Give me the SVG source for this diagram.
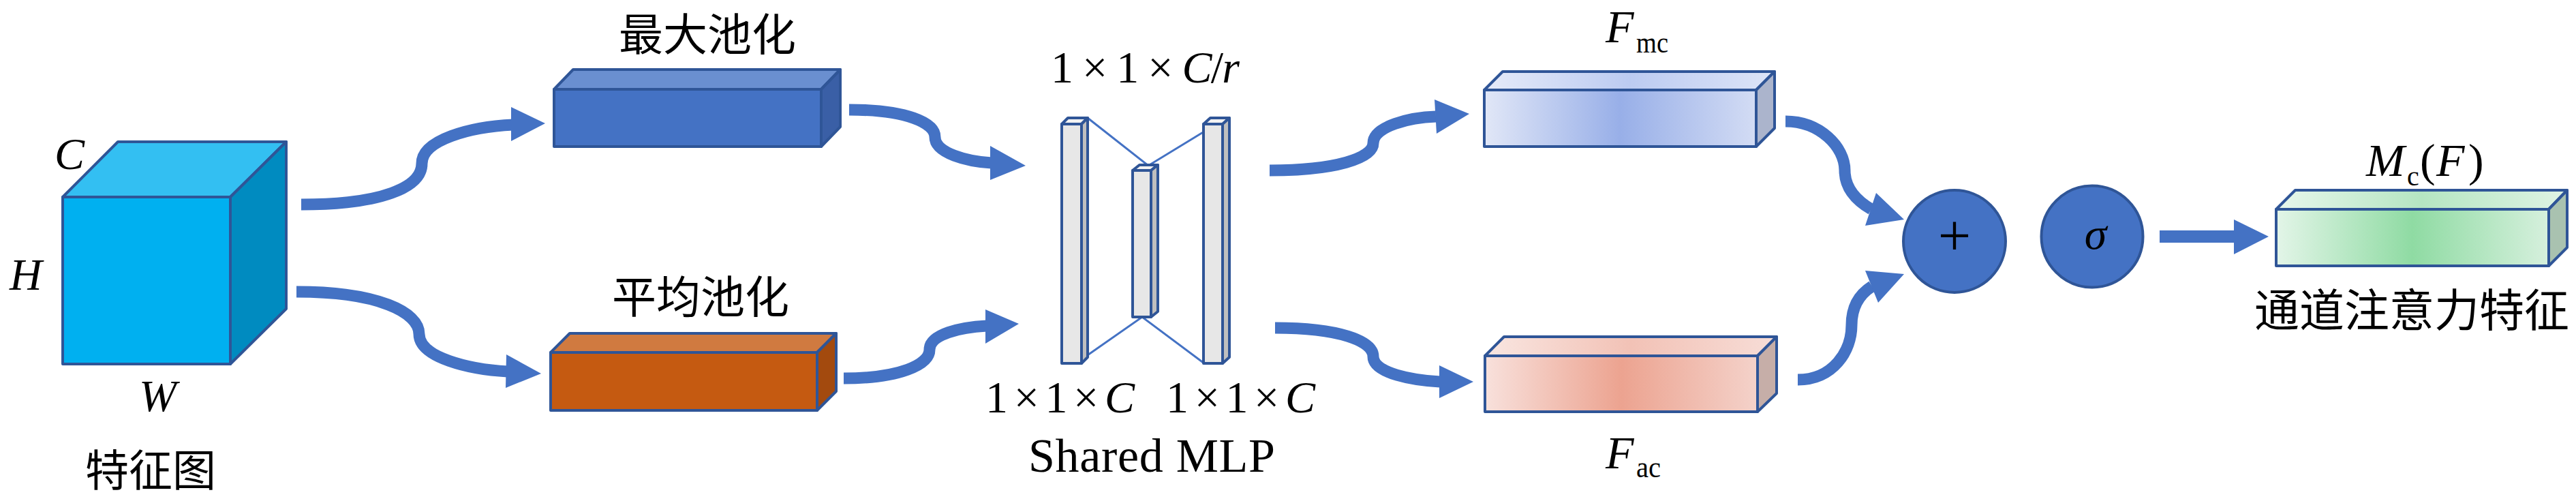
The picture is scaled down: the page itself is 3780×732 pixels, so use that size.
<svg xmlns="http://www.w3.org/2000/svg" width="3780" height="732" viewBox="0 0 3780 732">
<defs>
<style>
.edge{stroke:#2f5597;stroke-width:4;stroke-linejoin:round}
.conn{fill:none;stroke:#4472c4;stroke-width:17}
.head{fill:#4472c4}
.link{stroke:#4472c4;stroke-width:3;fill:none}
.math{font-family:"Liberation Serif","DejaVu Serif","Times New Roman",serif;fill:#000}
.it{font-style:italic}
.cjk{font-family:"Noto Sans CJK SC","Noto Sans CJK JP",sans-serif;fill:#000}
.barF{fill:#e7e7e7}
.barT{fill:#f2f2f2}
.barR{fill:#bfbfbf}
</style>
<linearGradient id="gMcF" x1="0" y1="0" x2="1" y2="0"><stop offset="0" stop-color="#e1e7f7"/><stop offset="0.5" stop-color="#98afe8"/><stop offset="1" stop-color="#d3dcf4"/></linearGradient>
<linearGradient id="gMcT" x1="0" y1="0" x2="1" y2="0"><stop offset="0" stop-color="#e6ebf9"/><stop offset="0.5" stop-color="#bccbf1"/><stop offset="1" stop-color="#dde4f7"/></linearGradient>
<linearGradient id="gAcF" x1="0" y1="0" x2="1" y2="0"><stop offset="0" stop-color="#f8e1dc"/><stop offset="0.5" stop-color="#eca390"/><stop offset="1" stop-color="#f4d2ca"/></linearGradient>
<linearGradient id="gAcT" x1="0" y1="0" x2="1" y2="0"><stop offset="0" stop-color="#f9e6e1"/><stop offset="0.5" stop-color="#f2c2b6"/><stop offset="1" stop-color="#f7ddd7"/></linearGradient>
<linearGradient id="gMF" x1="0" y1="0" x2="1" y2="0"><stop offset="0" stop-color="#e3f5e8"/><stop offset="0.5" stop-color="#8fdba3"/><stop offset="1" stop-color="#d6f0dd"/></linearGradient>
<linearGradient id="gMT" x1="0" y1="0" x2="1" y2="0"><stop offset="0" stop-color="#e8f7ec"/><stop offset="0.5" stop-color="#b5e6c2"/><stop offset="1" stop-color="#dff3e4"/></linearGradient>
</defs>
<rect width="3780" height="732" fill="#ffffff"/>

<g id="connectors">
<path class="conn" d="M442,300 C560,300 619,275 619,240 C619,205 690,186 753,183"/>
<polygon class="head" points="750,157 800,181 750,207"/>
<path class="conn" d="M435,428 C555,428 615,458 615,490 C615,525 690,542 745,545"/>
<polygon class="head" points="743,520 794,548 742,569"/>
<path class="conn" d="M1246,161 C1330,161 1372,180 1372,201 C1372,225 1420,237 1455,239"/>
<polygon class="head" points="1453,214 1505,243 1453,264"/>
<path class="conn" d="M1238,555 C1320,555 1364,535 1364,513 C1364,490 1410,480 1448,478"/>
<polygon class="head" points="1446,454 1495,475 1446,504"/>
<path class="conn" d="M1863,250 C1960,250 2015,232 2015,210 C2015,185 2070,172 2107,171"/>
<polygon class="head" points="2105,146 2156,167 2108,196"/>
<path class="conn" d="M1871,481 C1965,481 2015,500 2015,523 C2015,548 2075,558 2113,560"/>
<polygon class="head" points="2112,536 2162,560 2112,584"/>
<path class="conn" d="M2620,178 C2670,178 2707,215 2707,250 C2707,275 2722,293 2746,307"/>
<polygon class="head" points="2753,283 2794,322 2737,331"/>
<path class="conn" d="M2638,557 C2690,557 2717,515 2717,477 C2717,450 2728,432 2747,420"/>
<polygon class="head" points="2737,397 2794,402 2756,444"/>
<rect class="head" x="3169" y="338" width="112" height="18"/>
<polygon class="head" points="3278,322 3329,347 3278,373"/>
</g>

<g id="feature-map">
<polygon class="edge" fill="#00b0f0" points="92,289 338,289 338,534 92,534"/>
<polygon class="edge" fill="#33bff2" points="92,289 173,208 420,208 338,289"/>
<polygon class="edge" fill="#008bc0" points="338,289 420,208 420,453 338,534"/>
<text class="math it" x="80" y="248" font-size="66">C</text>
<text class="math it" x="14" y="425" font-size="66">H</text>
<text class="math it" x="204" y="603" font-size="66">W</text>
<text class="cjk" x="221" y="713" font-size="64" text-anchor="middle">特征图</text>
</g>

<g id="max-pool">
<polygon class="edge" fill="#4472c4" points="813,131 1205,131 1205,215 813,215"/>
<polygon class="edge" fill="#6a8fd0" points="813,131 841,102 1233,102 1205,131"/>
<polygon class="edge" fill="#3a5fa6" points="1205,131 1233,102 1233,186 1205,215"/>
<text class="cjk" x="1038" y="74" font-size="65" text-anchor="middle">最大池化</text>
</g>

<g id="avg-pool">
<polygon class="edge" fill="#c55a11" points="808,517 1199,517 1199,602 808,602"/>
<polygon class="edge" fill="#d07a40" points="808,517 836,489 1227,489 1199,517"/>
<polygon class="edge" fill="#a34a0e" points="1199,517 1227,489 1227,574 1199,602"/>
<text class="cjk" x="1028" y="459" font-size="65" text-anchor="middle">平均池化</text>
</g>

<g id="shared-mlp">
<polyline class="link" points="1596,173 1685,243 1767,193"/>
<polyline class="link" points="1593,523 1676,465 1767,533"/>
<polygon class="edge barF" points="1558,182 1587,182 1587,533 1558,533"/>
<polygon class="edge barT" points="1558,182 1567,173 1596,173 1587,182"/>
<polygon class="edge barR" points="1587,182 1596,173 1596,524 1587,533"/>
<polygon class="edge barF" points="1662,250 1689,250 1689,465 1662,465"/>
<polygon class="edge barT" points="1662,250 1672,242 1699,242 1689,250"/>
<polygon class="edge barR" points="1689,250 1699,242 1699,457 1689,465"/>
<polygon class="edge barF" points="1766,182 1794,182 1794,533 1766,533"/>
<polygon class="edge barT" points="1766,182 1776,173 1804,173 1794,182"/>
<polygon class="edge barR" points="1794,182 1804,173 1804,524 1794,533"/>
<text class="math" x="1542" y="121" font-size="66" textLength="277" lengthAdjust="spacing">1 × 1 × <tspan class="it">C</tspan>/<tspan class="it">r</tspan></text>
<text class="math" x="1446" y="605" font-size="66" textLength="219" lengthAdjust="spacing">1 × 1 × <tspan class="it">C</tspan></text>
<text class="math" x="1711" y="605" font-size="66" textLength="219" lengthAdjust="spacing">1 × 1 × <tspan class="it">C</tspan></text>
<text class="math" x="1509" y="692" font-size="70" textLength="362" lengthAdjust="spacing">Shared MLP</text>
</g>

<g id="f-mc">
<polygon class="edge" fill="url(#gMcF)" points="2178,132 2577,132 2577,215 2178,215"/>
<polygon class="edge" fill="url(#gMcT)" points="2178,132 2205,105 2604,105 2577,132"/>
<polygon class="edge" fill="#abb4cc" points="2577,132 2604,105 2604,188 2577,215"/>
<text class="math" font-size="68"><tspan class="it" x="2356" y="62">F</tspan><tspan x="2401" y="77" font-size="44" textLength="47" lengthAdjust="spacingAndGlyphs">mc</tspan></text>
</g>

<g id="f-ac">
<polygon class="edge" fill="url(#gAcF)" points="2179,522 2579,522 2579,604 2179,604"/>
<polygon class="edge" fill="url(#gAcT)" points="2179,522 2207,494 2607,494 2579,522"/>
<polygon class="edge" fill="#c6aea8" points="2579,522 2607,494 2607,577 2579,604"/>
<text class="math" font-size="68"><tspan class="it" x="2356" y="687">F</tspan><tspan x="2401" y="700" font-size="44" textLength="36" lengthAdjust="spacingAndGlyphs">ac</tspan></text>
</g>

<g id="sum">
<circle class="edge" fill="#4472c4" cx="2868" cy="354" r="75"/>
<text class="math" x="2868" y="375" font-size="86" text-anchor="middle">+</text>
</g>

<g id="sigmoid">
<circle class="edge" fill="#4472c4" cx="3070" cy="347" r="74.5"/>
<text class="math it" x="3075" y="365" font-size="66" text-anchor="middle">σ</text>
</g>

<g id="channel-attention">
<polygon class="edge" fill="url(#gMF)" points="3340,307 3740,307 3740,390 3340,390"/>
<polygon class="edge" fill="url(#gMT)" points="3340,307 3368,279 3767,279 3740,307"/>
<polygon class="edge" fill="#a9c2b0" points="3740,307 3767,279 3767,363 3740,390"/>
<text class="math" font-size="68"><tspan class="it" x="3472" y="258">M</tspan><tspan x="3532" y="272" font-size="40">c</tspan><tspan x="3551" y="258">(</tspan><tspan class="it" x="3575" y="258">F</tspan><tspan x="3622" y="258">)</tspan></text>
<text class="cjk" x="3539" y="479" font-size="66" text-anchor="middle">通道注意力特征</text>
</g>
</svg>
